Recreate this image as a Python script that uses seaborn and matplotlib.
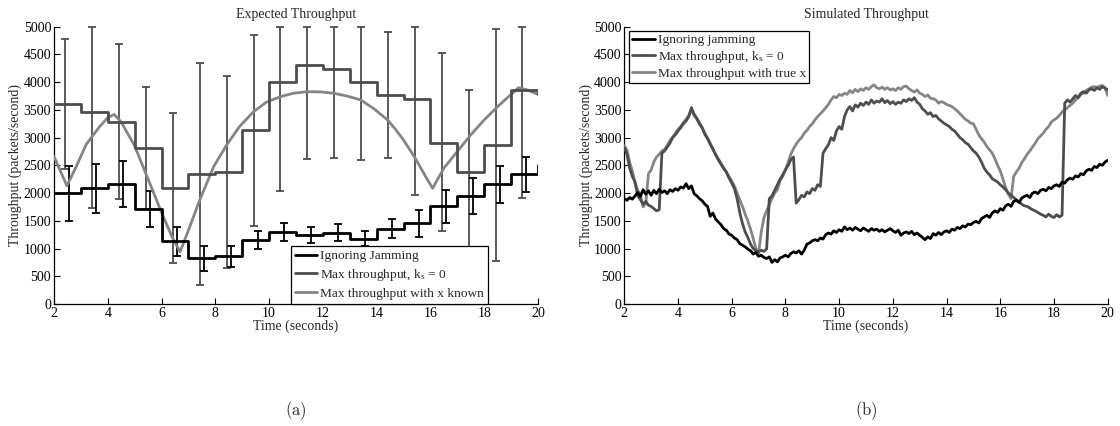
import numpy as np
import pandas as pd
import matplotlib
matplotlib.use("Agg")
import matplotlib.pyplot as plt
import seaborn as sns

# ---------------- data: panel (a) Expected Throughput ----------------
step_t = [2, 3, 4, 5, 6, 7, 8, 9, 10, 11, 12, 13, 14, 15, 16, 17, 18, 19, 20]
ignore_a = [1995, 2090, 2165, 1712, 1135, 823, 858, 1147, 1295, 1243, 1285, 1180,
            1358, 1453, 1766, 1950, 2156, 2337, 2500]
kmax_a = [3610, 3460, 3285, 2820, 2095, 2340, 2385, 3130, 4000, 4310, 4230, 4000,
          3765, 3700, 2910, 2385, 2875, 3855, 3780]

ebar_black_x = [2.57, 3.57, 4.57, 5.57, 6.57, 7.57, 8.57, 9.57, 10.57, 11.57, 12.57,
                13.57, 14.57, 15.57, 16.57, 17.57, 18.57, 19.57]
ebar_black_lo = [1495, 1645, 1754, 1387, 871, 600, 661, 985, 1129, 1093, 1135, 1040,
                 1189, 1213, 1465, 1622, 1820, 2013]
ebar_black_hi = [2486, 2522, 2571, 2042, 1381, 1045, 1045, 1309, 1465, 1393, 1435, 1321,
                 1526, 1688, 2054, 2265, 2492, 2643]

ebar_gray_x = [2.42, 3.42, 4.42, 5.42, 6.42, 7.42, 8.42, 9.42, 10.42, 11.42, 12.42,
               13.42, 14.42, 15.42, 16.42, 17.42, 18.42, 19.42]
ebar_gray_lo = [2430, 1736, 1893, 1714, 733, 337, 643, 1412, 2037, 2620, 2638, 2590,
                2625, 1965, 1321, 912, 775, 1905]
ebar_gray_hi = [4771, 5000, 4687, 3906, 3449, 4350, 4116, 4855, 5000, 5000, 5000, 5000,
                4900, 5000, 4519, 3856, 4958, 5000]

known_t = [2.0, 2.48, 2.8, 3.2, 3.7, 4.0, 4.24, 4.5, 5.0, 5.5, 6.0, 6.4, 6.69, 7.0,
           7.42, 7.94, 8.42, 8.9, 9.42, 9.9, 10.42, 10.9, 11.4, 11.9, 12.4, 12.9,
           13.41, 13.9, 14.41, 14.7, 15.0, 15.4, 15.86, 16.08, 16.5, 17.0, 17.5,
           18.0, 18.5, 19.0, 19.28, 19.6, 20.0]
known_a = [2660, 2130, 2450, 2880, 3200, 3360, 3420, 3280, 2850, 2250, 1650, 1200, 940,
           1330, 1875, 2480, 2866, 3200, 3467, 3640, 3738, 3800, 3828, 3825, 3800, 3750,
           3678, 3520, 3317, 3150, 2957, 2656, 2266, 2086, 2450, 2750, 3050, 3320,
           3560, 3780, 3900, 3860, 3780]

# ---------------- data: panel (b) Simulated Throughput (t = 2.0 ... 20.0, 0.1 s) ----------------
ignore_b = [1900, 1870, 1920, 1890, 1950, 2010, 1940, 2060, 1980, 2040,
            1960, 2050, 1990, 2070, 2010, 2040, 1990, 2060, 2030, 2080,
            2050, 2110, 2090, 2170, 2080, 2130, 1990, 1950, 1900, 1860,
            1800, 1760, 1580, 1640, 1530, 1480, 1430, 1360, 1330, 1260,
            1240, 1190, 1160, 1090, 1060, 1030, 990, 960, 900, 930,
            860, 880, 840, 820, 850, 750, 800, 760, 830, 850,
            880, 850, 910, 940, 920, 960, 900, 970, 1080, 1100,
            1140, 1160, 1140, 1190, 1170, 1250, 1280, 1260, 1320, 1290,
            1340, 1310, 1390, 1340, 1370, 1330, 1380, 1350, 1320, 1370,
            1340, 1310, 1360, 1330, 1350, 1310, 1340, 1300, 1330, 1360,
            1320, 1290, 1330, 1240, 1280, 1300, 1270, 1310, 1250, 1280,
            1240, 1200, 1160, 1210, 1180, 1270, 1240, 1290, 1250, 1300,
            1320, 1290, 1350, 1330, 1380, 1360, 1410, 1390, 1440, 1430,
            1470, 1490, 1460, 1540, 1570, 1600, 1560, 1640, 1680, 1650,
            1720, 1690, 1770, 1800, 1760, 1850, 1870, 1830, 1910, 1940,
            1960, 1920, 2000, 2020, 1990, 2050, 2070, 2040, 2100, 2080,
            2130, 2150, 2120, 2200, 2180, 2240, 2270, 2250, 2310, 2290,
            2350, 2330, 2400, 2430, 2410, 2480, 2460, 2520, 2500, 2560,
            2590]
kmax_b = [2820, 2700, 2450, 2300, 2200, 1950, 1880, 1800, 1850, 1780,
          1760, 1720, 1680, 1700, 2720, 2760, 2830, 2900, 3000, 3050,
          3120, 3180, 3250, 3300, 3380, 3540, 3420, 3350, 3260, 3180,
          3060, 2980, 2880, 2800, 2690, 2600, 2520, 2440, 2380, 2270,
          2180, 2080, 1900, 1650, 1450, 1300, 1200, 1080, 1000, 960,
          940, 970, 950, 990, 1900, 1950, 2050, 2150, 2250, 2330,
          2420, 2500, 2600, 2650, 1820, 1880, 1960, 1930, 2020, 1990,
          2080, 2050, 2150, 2120, 2720, 2800, 2870, 3000, 2950, 3120,
          3200, 3150, 3380, 3500, 3560, 3480, 3590, 3550, 3620, 3580,
          3640, 3600, 3680, 3620, 3660, 3640, 3700, 3630, 3670, 3610,
          3650, 3600, 3640, 3620, 3680, 3650, 3700, 3670, 3720, 3640,
          3600, 3520, 3480, 3420, 3450, 3380, 3400, 3340, 3300, 3260,
          3230, 3200, 3150, 3120, 3060, 3000, 2960, 2910, 2880, 2820,
          2760, 2720, 2650, 2560, 2450, 2380, 2330, 2260, 2230, 2200,
          2150, 2110, 2060, 2000, 1960, 1920, 1880, 1840, 1800, 1770,
          1760, 1730, 1700, 1680, 1650, 1620, 1600, 1570, 1620, 1580,
          1560, 1610, 1570, 1600, 3620, 3680, 3640, 3700, 3760, 3720,
          3800, 3830, 3800, 3860, 3880, 3850, 3900, 3870, 3920, 3890,
          3860]
truex_b = [2850, 2780, 2550, 2400, 2180, 2050, 1980, 1750, 1820, 2350,
           2420, 2560, 2650, 2700, 2760, 2790, 2860, 2950, 3010, 3080,
           3150, 3200, 3270, 3330, 3400, 3500, 3400, 3330, 3240, 3170,
           3080, 2990, 2900, 2780, 2700, 2620, 2540, 2460, 2380, 2300,
           2220, 2130, 2000, 1880, 1760, 1620, 1500, 1350, 1180, 1000,
           920, 1300, 1560, 1680, 1800, 1900, 2000, 2060, 2220, 2300,
           2420, 2550, 2700, 2800, 2880, 2950, 3000, 3080, 3130, 3200,
           3250, 3320, 3380, 3430, 3480, 3540, 3600, 3680, 3740, 3720,
           3780, 3760, 3800, 3780, 3850, 3810, 3870, 3830, 3880, 3850,
           3900, 3870, 3920, 3950, 3900, 3880, 3910, 3870, 3900, 3860,
           3880, 3850, 3900, 3870, 3920, 3930, 3880, 3850, 3820, 3860,
           3800, 3780, 3740, 3770, 3710, 3700, 3680, 3620, 3650, 3630,
           3600, 3580, 3560, 3520, 3480, 3430, 3380, 3330, 3300, 3260,
           3250, 3150, 3050, 2980, 2920, 2840, 2780, 2720, 2620, 2500,
           2400, 2250, 2100, 1980, 1900, 2300, 2380, 2450, 2550, 2620,
           2700, 2760, 2830, 2900, 2980, 3030, 3080, 3150, 3200, 3280,
           3320, 3350, 3400, 3460, 3500, 3540, 3580, 3620, 3680, 3720,
           3780, 3800, 3850, 3880, 3910, 3920, 3900, 3930, 3940, 3900,
           3760]
sim_t = np.round(np.arange(2.0, 20.0001, 0.1), 1)

xticks = [2, 4, 6, 8, 10, 12, 14, 16, 18, 20]
yticks = list(range(0, 5001, 500))

# ---------------- styling ----------------
sns.set_theme(style="white")
plt.rcParams["font.family"] = ["Liberation Serif", "DejaVu Serif"]
plt.rcParams["mathtext.fontset"] = "custom"
plt.rcParams["mathtext.rm"] = "Liberation Serif"
plt.rcParams["mathtext.it"] = "Liberation Serif:italic"

BLACK = "#000000"
DARK = "#4d4d4d"
LIGHT = "#858585"
FS = 10
LFS = 9.6

fig = plt.figure(figsize=(11.2, 4.26), dpi=100)
axA = fig.add_axes([54 / 1120, 122 / 426, 484 / 1120, 277.3 / 426])
axB = fig.add_axes([624.3 / 1120, 122 / 426, 483.4 / 1120, 277.3 / 426])

# panel (a)
black_c = np.array(ignore_a[:-1])
gray_c = np.array(kmax_a[:-1])
axA.errorbar(ebar_gray_x, gray_c, yerr=[gray_c - np.array(ebar_gray_lo), np.array(ebar_gray_hi) - gray_c],
             fmt="none", ecolor=DARK, elinewidth=1.3, capsize=3.0, capthick=1.3, zorder=2, clip_on=False)
axA.errorbar(ebar_black_x, black_c, yerr=[black_c - np.array(ebar_black_lo), np.array(ebar_black_hi) - black_c],
             fmt="none", ecolor=BLACK, elinewidth=1.3, capsize=3.0, capthick=1.3, zorder=2)

dfA = pd.DataFrame({"t": step_t, "ignore": ignore_a, "kmax": kmax_a})
sns.lineplot(data=dfA, x="t", y="ignore", ax=axA, color=BLACK, lw=2.0, drawstyle="steps-post",
             estimator=None, label="Ignoring Jamming", zorder=4)
sns.lineplot(data=dfA, x="t", y="kmax", ax=axA, color=DARK, lw=2.0, drawstyle="steps-post",
             estimator=None, label=r"Max throughput, k$_{\mathrm{s}}$ = 0", zorder=4)
dfK = pd.DataFrame({"t": known_t, "v": known_a})
sns.lineplot(data=dfK, x="t", y="v", ax=axA, color=LIGHT, lw=2.0, estimator=None,
             label="Max throughput with x known", zorder=3)

# panel (b)
dfB = pd.DataFrame({"t": sim_t, "ignore": ignore_b, "kmax": kmax_b, "truex": truex_b})
sns.lineplot(data=dfB, x="t", y="ignore", ax=axB, color=BLACK, lw=2.0, estimator=None,
             label="Ignoring jamming", zorder=5)
sns.lineplot(data=dfB, x="t", y="kmax", ax=axB, color=DARK, lw=2.0, estimator=None,
             label=r"Max throughput, k$_{\mathrm{s}}$ = 0", zorder=4)
sns.lineplot(data=dfB, x="t", y="truex", ax=axB, color=LIGHT, lw=2.0, estimator=None,
             label="Max throughput with true x", zorder=3)

for ax, title in [(axA, "Expected Throughput"), (axB, "Simulated Throughput")]:
    ax.set_xlim(2, 20)
    ax.set_ylim(0, 5000)
    ax.set_xticks(xticks)
    ax.set_yticks(yticks)
    ax.tick_params(direction="in", length=4, width=0.8, labelsize=FS, colors="black",
                   pad=2, left=True, bottom=True)
    for s in ["top", "right"]:
        ax.spines[s].set_visible(False)
    for s in ["left", "bottom"]:
        ax.spines[s].set_color("black")
        ax.spines[s].set_linewidth(0.9)
    ax.set_title(title, fontsize=FS, pad=6)
    ax.set_xlabel("Time (seconds)", fontsize=FS, labelpad=0)
    ax.set_ylabel("Throughput (packets/second)", fontsize=FS, labelpad=1)
    ax.grid(False)
    ax.set_facecolor("white")

legA = axA.legend(loc="lower left", bbox_to_anchor=(0.489, 0.0), fontsize=LFS, frameon=True,
                  fancybox=False, framealpha=1, edgecolor="black", handlelength=1.7,
                  handletextpad=0.2, borderpad=0.3, labelspacing=0.35, borderaxespad=0)
legA.get_frame().set_linewidth(0.9)
legA.set_zorder(10)
legB = axB.legend(loc="upper left", bbox_to_anchor=(0.0097, 0.9856), fontsize=LFS, frameon=True,
                  fancybox=False, framealpha=1, edgecolor="black", handlelength=1.7,
                  handletextpad=0.2, borderpad=0.25, labelspacing=0.2, borderaxespad=0)
legB.get_frame().set_linewidth(0.9)
legB.set_zorder(10)

fig.text(296 / 1120, 0.035, r"$\mathrm{(a)}$", ha="center", va="center", fontsize=12, math_fontfamily="cm")
fig.text(866 / 1120, 0.035, r"$\mathrm{(b)}$", ha="center", va="center", fontsize=12, math_fontfamily="cm")

fig.savefig("out.png", dpi=100, facecolor="white")
